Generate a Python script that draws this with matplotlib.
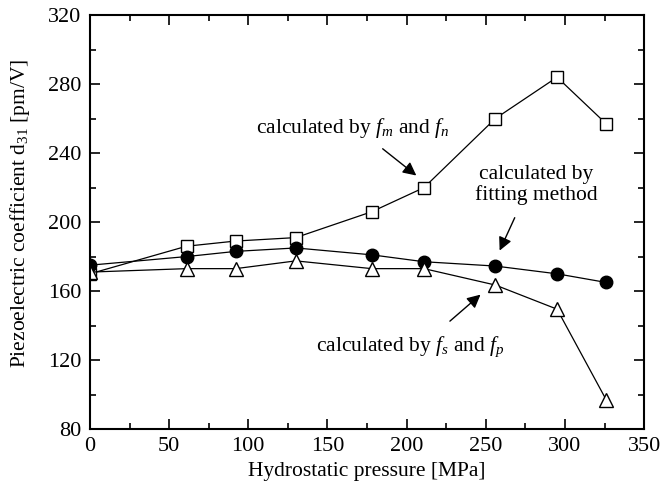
import matplotlib
matplotlib.use("Agg")
import matplotlib.pyplot as plt
from matplotlib.ticker import MultipleLocator

plt.rcParams["font.family"] = ["Liberation Serif", "DejaVu Serif"]
plt.rcParams["mathtext.fontset"] = "custom"
plt.rcParams["mathtext.rm"] = "Liberation Serif"
plt.rcParams["mathtext.it"] = "Liberation Serif:italic"

pressure = [0, 61, 92, 130, 178, 211, 256, 295, 326]
d31_fm_fn = [170, 186, 189, 191, 206, 220, 260, 284, 257]
d31_fitting = [175, 180, 183, 185, 181, 177, 174.5, 170, 165]
d31_fs_fp = [171, 173, 173, 177.5, 173, 173, 163.5, 149.5, 97]

fig = plt.figure(figsize=(6.71, 4.87), dpi=100)
ax = fig.add_axes([0.134, 0.119, 0.826, 0.850])

ax.plot(pressure, d31_fm_fn, color="black", lw=0.9, marker="s", ms=8,
        mfc="white", mec="black", mew=1.0)
ax.plot(pressure, d31_fitting, color="black", lw=0.9, marker="o", ms=9,
        mfc="black", mec="black")
ax.plot(pressure, d31_fs_fp, color="black", lw=0.9, marker="^", ms=10,
        mfc="white", mec="black", mew=1.0)

ax.set_xlim(0, 350)
ax.set_ylim(80, 320)
ax.xaxis.set_major_locator(MultipleLocator(50))
ax.xaxis.set_minor_locator(MultipleLocator(25))
ax.yaxis.set_major_locator(MultipleLocator(40))
ax.yaxis.set_minor_locator(MultipleLocator(20))
ax.tick_params(which="both", direction="in", top=True, right=True,
               labelsize=16, width=1.2)
ax.tick_params(which="major", length=7, pad=6)
ax.tick_params(which="minor", length=4)
for s in ax.spines.values():
    s.set_linewidth(1.5)

ax.set_xlabel("Hydrostatic pressure [MPa]", fontsize=15.5, labelpad=4)
ax.set_ylabel("Piezoelectric coefficient d$_{31}$ [pm/V]", fontsize=15.5)
ax.yaxis.set_label_coords(-0.105, 0.522)

arrow = dict(arrowstyle="-|>", color="black", lw=1.0, mutation_scale=20)
ax.text(166, 254.5, "calculated by $f_m$ and $f_n$", fontsize=15.5,
        ha="center", va="center")
ax.annotate("", xy=(207.5, 226), xytext=(183.5, 243.5), arrowprops=arrow)
ax.text(282, 221.5, "calculated by\nfitting method", fontsize=15.5,
        ha="center", va="center", linespacing=1.05)
ax.annotate("", xy=(258, 182), xytext=(269, 204), arrowprops=arrow)
ax.text(202.5, 127.5, "calculated by $f_s$ and $f_p$", fontsize=15.5,
        ha="center", va="center")
ax.annotate("", xy=(248, 159), xytext=(226, 141.5), arrowprops=arrow)

fig.savefig("out.png", dpi=100)
